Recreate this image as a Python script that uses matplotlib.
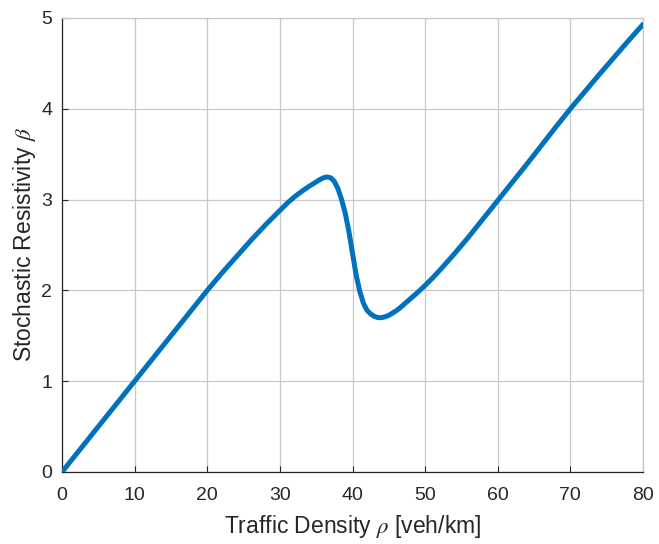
import numpy as np
import matplotlib
matplotlib.use("Agg")
import matplotlib.pyplot as plt

# values
rho = [0, 5, 10, 15, 20, 22, 24, 26, 28, 30, 31, 32, 33, 34, 35, 35.5, 36,
       36.5, 37, 37.5, 38, 38.5, 39, 39.5, 40, 40.5, 41, 41.5, 42, 42.5, 43,
       43.5, 44, 44.5, 45, 45.5, 46, 46.5, 47, 48, 49, 50, 51, 52, 53, 54,
       55, 56, 57, 58, 60, 62, 64, 66, 68, 70, 72, 74, 76, 78, 80]
beta = [0, 0.5, 1.0, 1.5, 2.0, 2.19, 2.37, 2.55, 2.72, 2.88, 2.96, 3.03,
        3.09, 3.145, 3.195, 3.22, 3.24, 3.25, 3.24, 3.20, 3.12, 3.00, 2.85,
        2.65, 2.41, 2.17, 1.99, 1.86, 1.78, 1.74, 1.715, 1.70, 1.70, 1.71,
        1.725, 1.75, 1.775, 1.805, 1.84, 1.91, 1.98, 2.055, 2.135, 2.22,
        2.31, 2.40, 2.495, 2.59, 2.69, 2.79, 2.99, 3.19, 3.39, 3.595, 3.80,
        4.00, 4.19, 4.38, 4.565, 4.75, 4.93]

xticks = [0, 10, 20, 30, 40, 50, 60, 70, 80]
yticks = [0, 1, 2, 3, 4, 5]

plt.rcParams['font.family'] = ['Liberation Sans', 'DejaVu Sans']
plt.rcParams['mathtext.fontset'] = 'stix'

fig = plt.figure(figsize=(6.59, 5.44), dpi=100)
ax = fig.add_axes([62/659, 1 - 472/544, (643 - 62)/659, (472 - 18)/544])

ax.plot(rho, beta, color="#0072BD", lw=3.6, solid_capstyle='round',
        solid_joinstyle='round', zorder=3)

ax.set_xlim(0, 80)
ax.set_ylim(0, 5)
ax.set_xticks(xticks)
ax.set_yticks(yticks)
ax.grid(True, color="#c8c8c8", lw=0.9)
ax.set_axisbelow(True)

for s in ['top', 'right']:
    ax.spines[s].set_color("#c8c8c8")
    ax.spines[s].set_linewidth(0.9)
for s in ['left', 'bottom']:
    ax.spines[s].set_color("#262626")
    ax.spines[s].set_linewidth(0.9)

ax.tick_params(direction='in', length=4, width=0.8, colors="#262626",
               labelsize=14)
ax.tick_params(axis='x', pad=11)
ax.tick_params(axis='y', pad=7)
ax.set_xlabel(r"Traffic Density $\rho$ [veh/km]", fontsize=16.5,
              color="#262626", labelpad=6)
ax.set_ylabel(r"Stochastic Resistivity $\beta$", fontsize=16.5,
              color="#262626", labelpad=2)

fig.savefig("out.png", dpi=100)
